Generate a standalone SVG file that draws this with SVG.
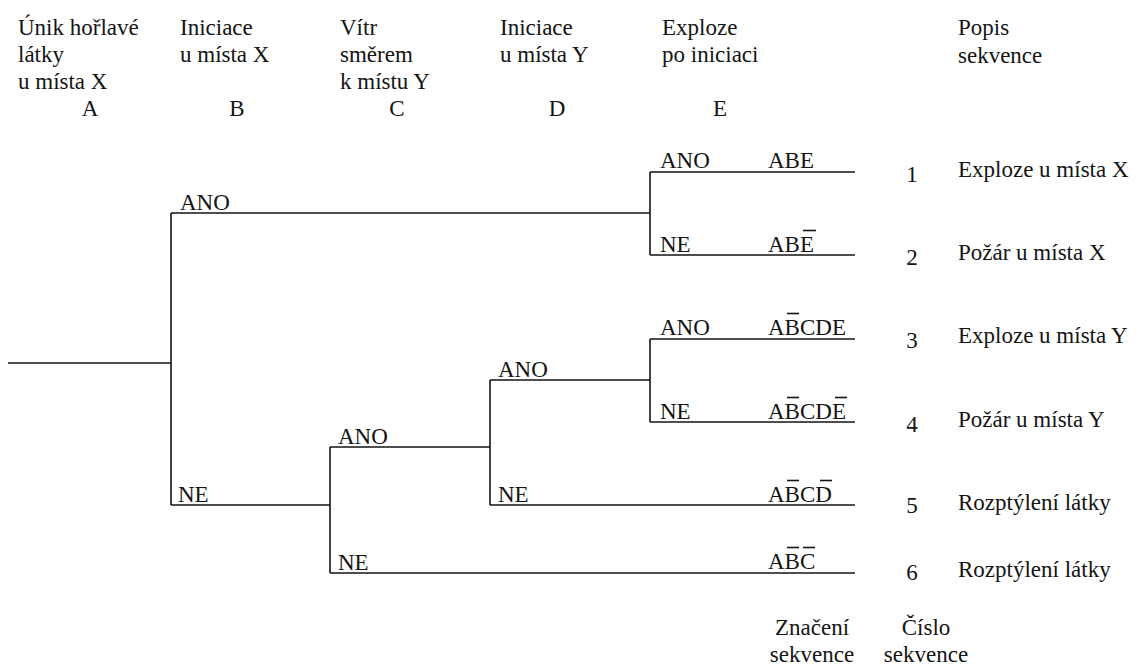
<svg xmlns="http://www.w3.org/2000/svg" width="1139" height="666" viewBox="0 0 1139 666">
<style>
text{font-size:23px;fill:#141414}
.m{text-anchor:middle}
.ln{fill:none;stroke:#141414;stroke-width:1.6}
.bar{stroke:#141414;stroke-width:1.6}
</style>
<rect width="1139" height="666" fill="#fff"/>
<g font-family="Liberation Serif, Times New Roman, Times, serif">
<g id="headers">
<text x="18" y="35">Únik hořlavé</text>
<text x="18" y="62">látky</text>
<text x="18" y="89">u místa X</text>
<text x="90" y="116" class="m">A</text>
<text x="180" y="35">Iniciace</text>
<text x="180" y="62">u místa X</text>
<text x="237" y="116" class="m">B</text>
<text x="340" y="35">Vítr</text>
<text x="340" y="62">směrem</text>
<text x="340" y="89">k místu Y</text>
<text x="397" y="116" class="m">C</text>
<text x="500" y="35">Iniciace</text>
<text x="500" y="62">u místa Y</text>
<text x="557" y="116" class="m">D</text>
<text x="662" y="35">Exploze</text>
<text x="662" y="62">po iniciaci</text>
<text x="720" y="116" class="m">E</text>
<text x="958" y="35">Popis</text>
<text x="958" y="63">sekvence</text>
</g>
<g id="connectors">
<path class="ln" d="M8,363H171M171,213V505M171,213H650M650,172V255M650,172H855M650,255H855"/>
<path class="ln" d="M171,505H330M330,447V573M330,573H855M330,447H490M490,380V505M490,505H855M490,380H650M650,339V422M650,339H855M650,422H855"/>
</g>
<g id="branch-labels">
<text x="180" y="210">ANO</text>
<text x="178" y="502">NE</text>
<text x="338" y="444">ANO</text>
<text x="338" y="570">NE</text>
<text x="498" y="377">ANO</text>
<text x="498" y="502">NE</text>
<text x="660" y="168">ANO</text>
<text x="660" y="252">NE</text>
<text x="660" y="335">ANO</text>
<text x="660" y="419">NE</text>
</g>
<g id="seq1"><text x="768" y="168">ABE</text><text x="912" y="182" class="m">1</text><text x="958" y="177">Exploze u místa X</text></g>
<g id="seq2"><text x="768" y="252">ABE</text><line class="bar" x1="803" y1="230.5" x2="816" y2="230.5"/><text x="912" y="265" class="m">2</text><text x="958" y="260">Požár u místa X</text></g>
<g id="seq3"><text x="768" y="335">ABCDE</text><line class="bar" x1="787" y1="313.5" x2="799" y2="313.5"/><text x="912" y="348" class="m">3</text><text x="958" y="343">Exploze u místa Y</text></g>
<g id="seq4"><text x="768" y="419">ABCDE</text><line class="bar" x1="787" y1="397.5" x2="799" y2="397.5"/><line class="bar" x1="835" y1="397.5" x2="847" y2="397.5"/><text x="912" y="432" class="m">4</text><text x="958" y="427">Požár u místa Y</text></g>
<g id="seq5"><text x="768" y="502">ABCD</text><line class="bar" x1="787" y1="480.5" x2="799" y2="480.5"/><line class="bar" x1="820" y1="480.5" x2="832" y2="480.5"/><text x="912" y="513" class="m">5</text><text x="958" y="510">Rozptýlení látky</text></g>
<g id="seq6"><text x="768" y="569">ABC</text><line class="bar" x1="787" y1="547.5" x2="799" y2="547.5"/><line class="bar" x1="803" y1="547.5" x2="815" y2="547.5"/><text x="912" y="580" class="m">6</text><text x="958" y="577">Rozptýlení látky</text></g>
<g id="footer">
<text x="812" y="635" class="m">Značení</text>
<text x="812" y="662" class="m">sekvence</text>
<text x="926" y="635" class="m">Číslo</text>
<text x="926" y="662" class="m">sekvence</text>
</g>
</g>
</svg>
